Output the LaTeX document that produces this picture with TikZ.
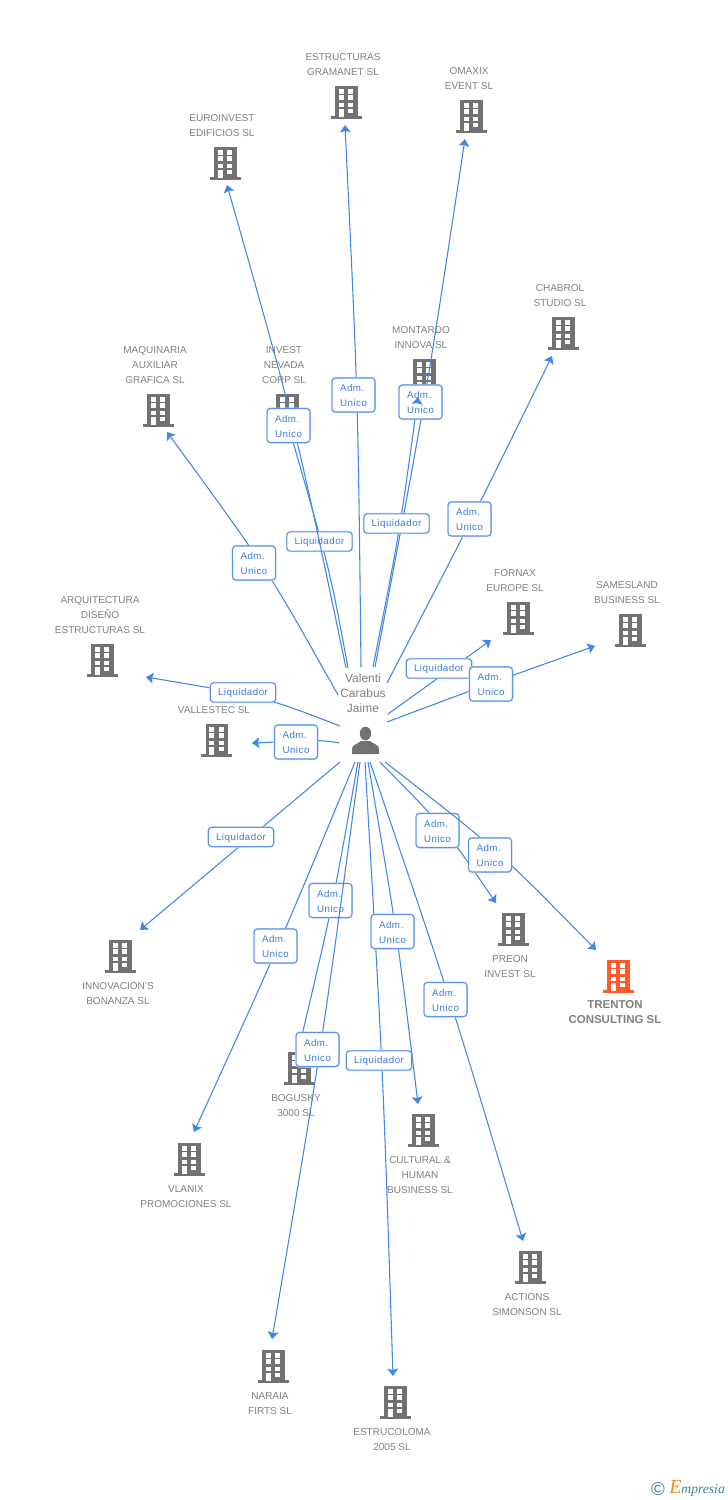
\documentclass[tikz,border=0pt]{standalone}
\usepackage{fontspec}
\setmainfont{Liberation Sans}
\newfontfamily\bluefont[LetterSpace=5]{Liberation Sans}
\newfontfamily\logofont{Liberation Serif}
\usetikzlibrary{arrows.meta}
\definecolor{bldgrey}{HTML}{727272}
\definecolor{bldorange}{HTML}{FF5A2C}
\definecolor{txtgrey}{HTML}{808080}
\definecolor{linkblue}{HTML}{4287E6}
\definecolor{boxblue}{HTML}{5A94EA}
\definecolor{boxtext}{HTML}{3A7BDD}
\definecolor{logoblue}{HTML}{3E7F9F}
\definecolor{logoorange}{HTML}{F08A24}
\tikzset{
  conn/.style={draw=linkblue,line width=0.8pt,-{Stealth[length=5.5pt,width=8pt,inset=1pt]}},
  ttl/.style={font=\fontsize{7.5}{11.25}\selectfont,align=center,text=txtgrey,inner sep=0pt,yshift=-0.6pt},
  ttlb/.style={font=\fontsize{8.6}{11.25}\selectfont\bfseries,align=center,text=txtgrey,inner sep=0pt,yshift=-0.6pt},
  hubtxt/.style={font=\fontsize{9}{11.25}\selectfont,align=center,text=txtgrey,inner sep=0pt,yshift=-0.4pt},
  rolebox/.style={preaction={draw=boxblue!35,line width=1.5pt,rounded corners=3pt},
    draw=boxblue,line width=0.8pt,fill=white,rounded corners=2.5pt,inner sep=0pt,
    text=boxtext,font=\fontsize{7.3}{11.25}\selectfont\bluefont},
  admbox/.style={rolebox,minimum width=32.2pt,minimum height=25.5pt,align=left},
  liqbox/.style={rolebox,minimum width=49pt,minimum height=14.4pt},
  bldbox/.style={inner sep=0pt,minimum width=23.2pt,minimum height=25pt}
}
% building icon: name, x, y, colour
\newcommand{\bld}[4]{%
  \node[bldbox] (#1) at (#2,#3) {};
  \begin{scope}[shift={(#2,#3)}]
    \fill[#4] (-11,-16.5) rectangle (11.5,16);
    \fill[#4] (-15.5,14) rectangle (15.5,16.7);
    \fill[white] (-7.3,-12.7) rectangle (-2.5,-8.5);
    \fill[white] (2.2,-12.7) rectangle (7.2,-8.5);
    \fill[white] (-7.3,-6.7) rectangle (-2.5,-2.2);
    \fill[white] (2.2,-6.7) rectangle (7.2,-2.2);
    \fill[white] (-7.3,0.5) rectangle (-2.5,4.7);
    \fill[white] (2.2,0.5) rectangle (7.2,4.7);
    \fill[white] (-7.3,6.9) rectangle (-2.5,14.7);
    \fill[white] (2.2,6.9) rectangle (7.2,11.3);
  \end{scope}}
% connector: id, start, control, tip
\newcommand{\myconn}[4]{%
  \coordinate (#1-from) at (#2);
  \coordinate (#1-bend) at (#3);
  \coordinate (#1-tip) at (#4);
  \draw[conn] (#1-from) .. controls (#1-bend) .. (#1-tip);}
\newcommand{\adm}[3]{\node[admbox] (#1) at (#2,#3) {\rule{0pt}{6.6pt}Adm.\\Unico};}
\newcommand{\liq}[3]{\node[liqbox] (#1) at (#2,#3) {\rule{0pt}{6.6pt}Liquidador};}
\begin{document}
\begin{tikzpicture}[x=0.75pt,y=-0.75pt]
\useasboundingbox (0,0) rectangle (728,1500);
\fill[white] (0,0) rectangle (728,1500);

% buildings
\bld{bEstructuras}{346}{102}{bldgrey}
\bld{bOmaxix}{471}{116}{bldgrey}
\bld{bEuroinvest}{225}{163}{bldgrey}
\bld{bChabrol}{563}{333}{bldgrey}
\bld{bMontardo}{424}{375}{bldgrey}
\bld{bInvest}{287}{410}{bldgrey}
\bld{bMaquinaria}{158}{410}{bldgrey}
\bld{bArquitectura}{102}{660}{bldgrey}
\bld{bVallestec}{216.5}{740}{bldgrey}
\bld{bFornax}{518}{618}{bldgrey}
\bld{bSamesland}{630}{630}{bldgrey}
\bld{bPreon}{513}{929}{bldgrey}
\bld{bTrenton}{618}{976}{bldorange}
\bld{bInnovacion}{120}{956}{bldgrey}
\bld{bVlanix}{189}{1159}{bldgrey}
\bld{bBogusky}{299}{1068}{bldgrey}
\bld{bCultural}{423}{1130}{bldgrey}
\bld{bActions}{530}{1267}{bldgrey}
\bld{bNaraia}{273}{1366}{bldgrey}
\bld{bEstrucoloma}{395}{1402}{bldgrey}

% building titles
\node[ttl] (tEstructuras) at (343,63.5) {ESTRUCTURAS\\GRAMANET SL};
\node[ttl] (tOmaxix) at (469,77.5) {OMAXIX\\EVENT SL};
\node[ttl] (tEuroinvest) at (222,124.5) {EUROINVEST\\EDIFICIOS SL};
\node[ttl] (tChabrol) at (560,294.5) {CHABROL\\STUDIO SL};
\node[ttl] (tMontardo) at (421,336.5) {MONTARDO\\INNOVA SL};
\node[ttl] (tInvest) at (284,364) {INVEST\\NEVADA\\CORP SL};
\node[ttl] (tMaquinaria) at (155,364) {MAQUINARIA\\AUXILIAR\\GRAFICA SL};
\node[ttl] (tArquitectura) at (100,614) {ARQUITECTURA\\DISEÑO\\ESTRUCTURAS SL};
\node[ttl] (tVallestec) at (214,709) {VALLESTEC SL};
\node[ttl] (tFornax) at (515,579.5) {FORNAX\\EUROPE SL};
\node[ttl] (tSamesland) at (627,591.5) {SAMESLAND\\BUSINESS SL};
\node[ttl] (tPreon) at (510,965.5) {PREON\\INVEST SL};
\node[ttlb] (tTrenton) at (615,1011.5) {TRENTON\\CONSULTING SL};
\node[ttl] (tInnovacion) at (118,992.5) {INNOVACION'S\\BONANZA SL};
\node[ttl] (tVlanix) at (186,1195.5) {VLANIX\\PROMOCIONES SL};
\node[ttl] (tBogusky) at (296,1104.5) {BOGUSKY\\3000 SL};
\node[ttl] (tCultural) at (420,1174) {CULTURAL \&\\HUMAN\\BUSINESS SL};
\node[ttl] (tActions) at (527,1303.5) {ACTIONS\\SIMONSON SL};
\node[ttl] (tNaraia) at (270,1402.5) {NARAIA\\FIRTS SL};
\node[ttl] (tEstrucoloma) at (392,1438.5) {ESTRUCOLOMA\\2005 SL};

% person
\node[hubtxt] (hub) at (363,693) {Valenti\\Carabus\\Jaime};
\fill[bldgrey] (365.5,733.5) ellipse (5.7 and 6.8);
\fill[bldgrey] (352,754) -- (352,749) .. controls (352,744.5) and (357,744.5) .. (361,741)
  -- (370,741) .. controls (374,744.5) and (379,744.5) .. (379,749) -- (379,754) -- cycle;

% connectors and role boxes
\myconn{cInvest}{348,668}{330,570}{289,428}
\liq{lInvest}{319.5}{541.5}
\myconn{cEuro}{346,668}{295,424}{227,185}
\adm{lEuro}{288.5}{425.5}
\myconn{cEst}{361,667}{358,396}{345,125}
\adm{lEst}{353.5}{395}
\myconn{cMont}{373,667}{399.5,533}{418,397}
\myconn{cOmax}{375,667}{425,403}{465,139}
\adm{lOmax}{420.5}{402}
\coordinate (cMont-near) at (417.4,403);
\draw[conn] (cMont-near) -- (cMont-tip);
\liq{lMont}{396.5}{523.5}
\myconn{cChab}{387,683}{471.5,520.5}{552,356}
\adm{lChab}{469.5}{519}
\myconn{cMaq}{338,695}{268,570}{167,432}
\adm{lMaq}{254}{563}
\myconn{cArq}{340,726}{265,697}{146,677}
\liq{lArq}{243}{692.5}
\coordinate (cVal-from) at (339,743);
\coordinate (cVal-tip) at (252,743);
\draw[conn] (cVal-from) .. controls (318,738) and (285,742) .. (cVal-tip);
\adm{lVal}{296}{742}
\myconn{cFor}{388,714}{439.5,677}{491,640}
\liq{lFor}{439}{668.5}
\myconn{cSam}{387,722}{491,683}{595,646}
\adm{lSam}{491}{684}
\myconn{cInn}{340,762}{240,846}{140,930}
\liq{lInn}{241}{837}
\myconn{cVla}{355,762}{278,948}{194,1132}
\adm{lVla}{275.5}{946}
\myconn{cBog}{358,762}{332.5,906}{299,1048}
\adm{lBog}{330.5}{900.5}
\myconn{cNar}{360,762}{321,1051}{272,1339}
\adm{lNar}{317.5}{1049.5}
\myconn{cEstr}{365,762}{383,1069}{393,1376}
\liq{lEstr}{379}{1060.5}
\myconn{cCul}{368,762}{397,932}{418,1104}
\adm{lCul}{392.5}{931.5}
\myconn{cAct}{370,762}{451,1000}{523,1241}
\adm{lAct}{445.5}{999.5}
\myconn{cPre}{380,762}{444,827}{496,903}
\adm{lPre}{437.5}{830.5}
\myconn{cTre}{385,762}{497,849}{596,950}
\adm{lTre}{490}{855}

% logo
\node[inner sep=0pt,text=logoblue,font=\fontsize{14}{14}\selectfont] (logoC) at (658,1489) {©};
\node[inner sep=0pt,anchor=base west,font=\fontsize{10.2}{11}\selectfont\logofont\itshape,text=logoblue] (logoT) at (669,1493) {{\color{logoorange}\fontsize{15}{15}\selectfont E}mpresia};
\end{tikzpicture}
\end{document}
